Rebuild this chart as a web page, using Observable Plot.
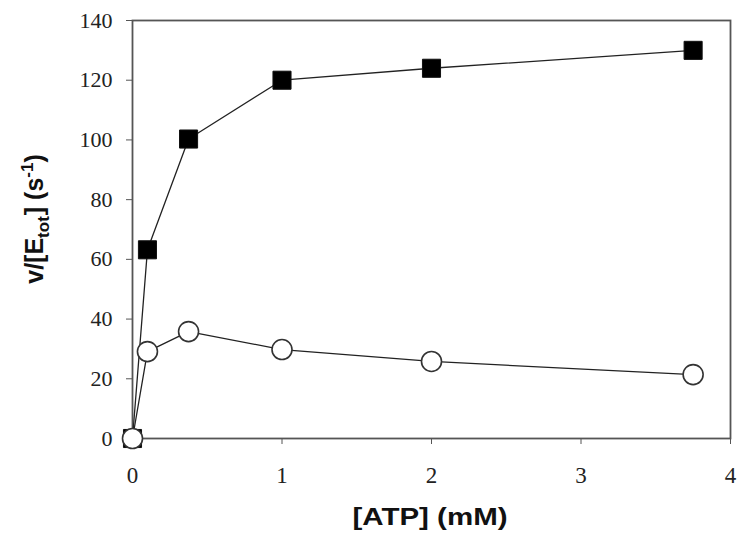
<!DOCTYPE html>
<html><head><meta charset="utf-8">
<script src="https://cdn.jsdelivr.net/npm/d3@7"></script>
<script src="https://cdn.jsdelivr.net/npm/@observablehq/plot@0.6"></script>
<style>body{margin:0;background:#fff}</style>
</head><body><div id="chart"></div>
<script>
const atp = [0, 0.1, 0.375, 1, 2, 3.75];
const filledSquares = [0, 63.2, 100.3, 120, 124, 130];
const openCircles = [0, 29.1, 35.8, 29.8, 25.8, 21.4];
const xTicks = [0, 1, 2, 3, 4];
const yTicks = [0, 20, 40, 60, 80, 100, 120, 140];
const xLabel = "[ATP] (mM)";

const sq = atp.map((x, i) => ({x, y: filledSquares[i]}));
const ci = atp.map((x, i) => ({x, y: openCircles[i]}));

const plot = Plot.plot({
  width: 752, height: 547,
  marginLeft: 132, marginRight: 22, marginTop: 20, marginBottom: 109,
  x: {domain: [0, 4]},
  y: {domain: [0, 140]},
  style: {fontSize: "23px", background: "white", color: "#222"},
  marks: [
    Plot.axisX({ticks: xTicks, tickFormat: d => String(d), tickSize: 6, tickPadding: 22, label: null, stroke: "#555", fill: "#222", fontSize: 23}),
    Plot.axisY({ticks: yTicks, tickFormat: d => String(d), tickSize: 6, tickPadding: 14, label: null, stroke: "#555", fill: "#222", fontSize: 22}),
    Plot.frame({stroke: "#555", strokeWidth: 1.8}),
    Plot.line(sq, {x: "x", y: "y", stroke: "#222", strokeWidth: 1.3}),
    Plot.line(ci, {x: "x", y: "y", stroke: "#222", strokeWidth: 1.3}),
    Plot.dot(sq, {x: "x", y: "y", symbol: "square", r: 10.2, fill: "black", stroke: "#111", strokeWidth: 1}),
    Plot.dot(ci, {x: "x", y: "y", r: 10, fill: "white", stroke: "#333", strokeWidth: 1.6})
  ]
});
plot.setAttribute("font-family", "Liberation Serif");
plot.style.fontFamily = "'Liberation Serif', serif";
document.getElementById("chart").appendChild(plot);

const svg = d3.select(plot);
svg.selectAll("g").attr("font-family", "Liberation Serif");
svg.selectAll("text").attr("font-family", "Liberation Serif");

svg.append("text")
  .attr("x", 430).attr("y", 525)
  .attr("text-anchor", "middle")
  .attr("font-family", "Liberation Sans")
  .attr("font-weight", "bold").attr("font-size", 24)
  .attr("fill", "#111")
  .attr("textLength", 155).attr("lengthAdjust", "spacingAndGlyphs")
  .text(xLabel);

const yl = svg.append("text")
  .attr("transform", "translate(43,219) rotate(-90)")
  .attr("text-anchor", "middle")
  .attr("font-family", "Liberation Sans")
  .attr("font-weight", "bold").attr("font-size", 25)
  .attr("fill", "#111");
yl.append("tspan").text("v/[E");
yl.append("tspan").attr("font-size", 17).attr("dy", 6).text("tot");
yl.append("tspan").attr("dy", -6).attr("dx", 1).text("] (s");
yl.append("tspan").attr("font-size", 17).attr("dy", -10).text("-1");
yl.append("tspan").attr("dy", 10).text(")");
</script>
</body></html>
